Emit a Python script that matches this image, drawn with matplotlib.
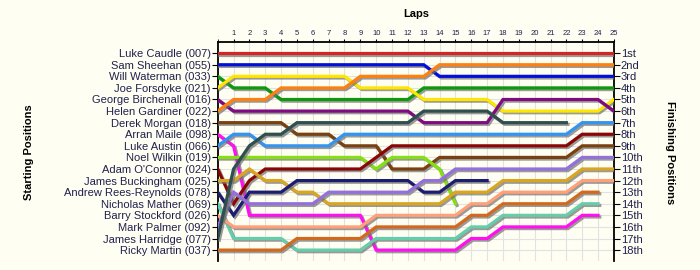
import matplotlib
matplotlib.use("Agg")
import numpy as np
import matplotlib.pyplot as plt
import matplotlib.patheffects as pe

plt.rcParams['font.family'] = ['Liberation Sans', 'DejaVu Sans']

# 数据: 每位车手每圈的名次 (第0圈 = 发车位置)
laps = list(range(0, 26))

starting_names = [
    "Luke Caudle (007)", "Sam Sheehan (055)", "Will Waterman (033)",
    "Joe Forsdyke (021)", "George Birchenall (016)", "Helen Gardiner (022)",
    "Derek Morgan (018)", "Arran Maile (098)", "Luke Austin (066)",
    "Noel Wilkin (019)", "Adam O'Connor (024)", "James Buckingham (025)",
    "Andrew Rees-Reynolds (078)", "Nicholas Mather (069)", "Barry Stockford (026)",
    "Mark Palmer (092)", "James Harridge (077)", "Ricky Martin (037)",
]
finishing_labels = ["1st", "2nd", "3rd", "4th", "5th", "6th", "7th", "8th", "9th",
                    "10th", "11th", "12th", "13th", "14th", "15th", "16th", "17th", "18th"]

N = None
caudle     = [1, 1, 1, 1, 1, 1, 1, 1, 1, 1, 1, 1, 1, 1, 1, 1, 1, 1, 1, 1, 1, 1, 1, 1, 1, 1]
sheehan    = [2, 2, 2, 2, 2, 2, 2, 2, 2, 2, 2, 2, 2, 2, 3, 3, 3, 3, 3, 3, 3, 3, 3, 3, 3, 3]
waterman   = [3, 4, 4, 4, 5, 5, 5, 5, 5, 5, 5, 5, 5, 4, 4, 4, 4, 4, 4, 4, 4, 4, 4, 4, 4, 4]
forsdyke   = [4, 3, 3, 3, 3, 3, 3, 3, 3, 4, 4, 4, 4, 5, 5, 5, 5, 5, 6, 6, 6, 6, 6, 6, 6, 5]
birchenall = [5, 6, 6, 6, 6, 6, 6, 6, 6, 6, 6, 6, 6, 7, 7, 7, 7, 7, 5, 5, 5, 5, 5, 5, 5, 6]
gardiner   = [6, 5, 5, 5, 4, 4, 4, 4, 4, 3, 3, 3, 3, 3, 2, 2, 2, 2, 2, 2, 2, 2, 2, 2, 2, 2]
morgan     = [7, 7, 7, 7, 7, 8, 8, 8, 9, 9, 9, 11, 11, 11, 10, 10, 10, 10, 10, 10, 10, 10, 10, 9, 9, 9]
maile      = [8, 9, 15, 15, 15, 15, 15, 15, 15, 15, 18, 18, 18, 18, 18, 18, 17, 17, 16, 16, 16, 16, 16, 15, 15, N]
austin     = [9, 8, 8, 9, 9, 9, 9, 9, 8, 8, 8, 8, 8, 8, 8, 8, 8, 8, 8, 8, 8, 8, 8, 7, 7, 7]
wilkin     = [10, 10, 10, 10, 10, 10, 10, 10, 10, 10, 11, 10, 10, 10, 11, 14, N, N, N, N, N, N, N, N, N, N]
oconnor    = [11, 14, 12, 11, 11, 11, 11, 11, 11, 11, 10, 9, 9, 9, 9, 9, 9, 9, 9, 9, 9, 9, 9, 8, 8, 8]
buckingham = [12, 12, 11, 12, 12, 13, 13, 14, 14, 14, 14, 14, 14, 14, 14, 13, 13, 13, 12, 12, 12, 12, 12, 11, 11, 11]
rees       = [13, 15, 13, 13, 13, 12, 12, 12, 12, 12, 12, 12, 12, 13, 13, 12, 12, 12, N, N, N, N, N, N, N, N]
mather     = [14, 17, 17, 17, 17, 18, 18, 18, 18, 18, 17, 17, 17, 17, 17, 17, 16, 16, 15, 15, 15, 15, 15, 14, 14, N]
stockford  = [15, 16, 16, 16, 16, 16, 16, 16, 16, 16, 15, 15, 15, 15, 15, 15, 14, 14, 13, 13, 13, 13, 13, 12, 12, 12]
palmer     = [16, 13, 14, 14, 14, 14, 14, 13, 13, 13, 13, 13, 13, 12, 12, 11, 11, 11, 11, 11, 11, 11, 11, 10, 10, 10]
harridge   = [17, 11, 9, 8, 8, 7, 7, 7, 7, 7, 7, 7, 7, 6, 6, 6, 6, 6, 7, 7, 7, 7, 7, N, N, N]
martin     = [18, 18, 18, 18, 18, 17, 17, 17, 17, 17, 16, 16, 16, 16, 16, 16, 15, 15, 14, 14, 14, 14, 14, 13, 13, N]

series = [caudle, sheehan, waterman, forsdyke, birchenall, gardiner, morgan, maile,
          austin, wilkin, oconnor, buckingham, rees, mather, stockford, palmer,
          harridge, martin]
colors = ['#d42424', '#0010d8', '#0c9a0c', '#ffe600', '#800a80', '#ff8010',
          '#7a4010', '#ff10ee', '#3494f0', '#84e010', '#8a0606', '#daa520',
          '#1c1c70', '#66cdaa', '#ffa07a', '#9370db', '#2f4f4f', '#d2691e']

bg = '#fefef2'
fig = plt.figure(figsize=(7, 2.7), dpi=100, facecolor=bg)
ax = fig.add_axes([0.311, 0.033, 0.566, 0.813])
ax.set_facecolor(bg)

shadow = [pe.SimpleLineShadow(offset=(1.2, -1.2), shadow_color='#707070', alpha=0.7),
          pe.Normal()]
for pos, c in zip(series, colors):
    y = np.array([np.nan if v is None else v for v in pos], dtype=float)
    ax.plot(laps, y, color=c, lw=2.3, solid_joinstyle='miter',
            path_effects=shadow, zorder=3)

ax.set_xlim(0, 25)
ax.set_ylim(18.95, 0)

# 上方圈数轴
ax.xaxis.tick_top()
ax.set_xticks(range(1, 26))
ax.set_xticklabels([str(i) for i in range(1, 26)], fontsize=5.5, color='#202050')
ax.tick_params(axis='x', length=2, width=0.8, pad=1)
ax.set_xticks(range(0, 26), minor=True)

# 左侧发车位置
ax.set_yticks(range(1, 19))
ax.set_yticklabels(starting_names, fontsize=8, color='#202050')
ax.tick_params(axis='y', length=4, width=0.8, pad=1)

ax.grid(True, which='major', color='#e2e2e2', lw=0.8, zorder=0)
ax.set_axisbelow(True)

for s in ['left', 'top', 'right']:
    ax.spines[s].set_linewidth(1.3)
ax.spines['bottom'].set_visible(False)

# 右侧完赛位置
ax2 = ax.twinx()
ax2.set_ylim(ax.get_ylim())
ax2.set_yticks(range(1, 19))
ax2.set_yticklabels(finishing_labels, fontsize=8, color='#202050')
ax2.tick_params(axis='y', length=4, width=0.8, pad=1)
for s in ['left', 'top', 'right', 'bottom']:
    ax2.spines[s].set_visible(False)

fig.text(0.594, 0.948, "Laps", ha='center', va='center', fontsize=8, fontweight='bold')
fig.text(0.041, 0.435, "Starting Positions", ha='center', va='center', rotation=90,
         fontsize=8, fontweight='bold')
fig.text(0.957, 0.435, "Finishing Positions", ha='center', va='center', rotation=-90,
         fontsize=8, fontweight='bold')

fig.savefig('out.png', dpi=100, facecolor=bg)
